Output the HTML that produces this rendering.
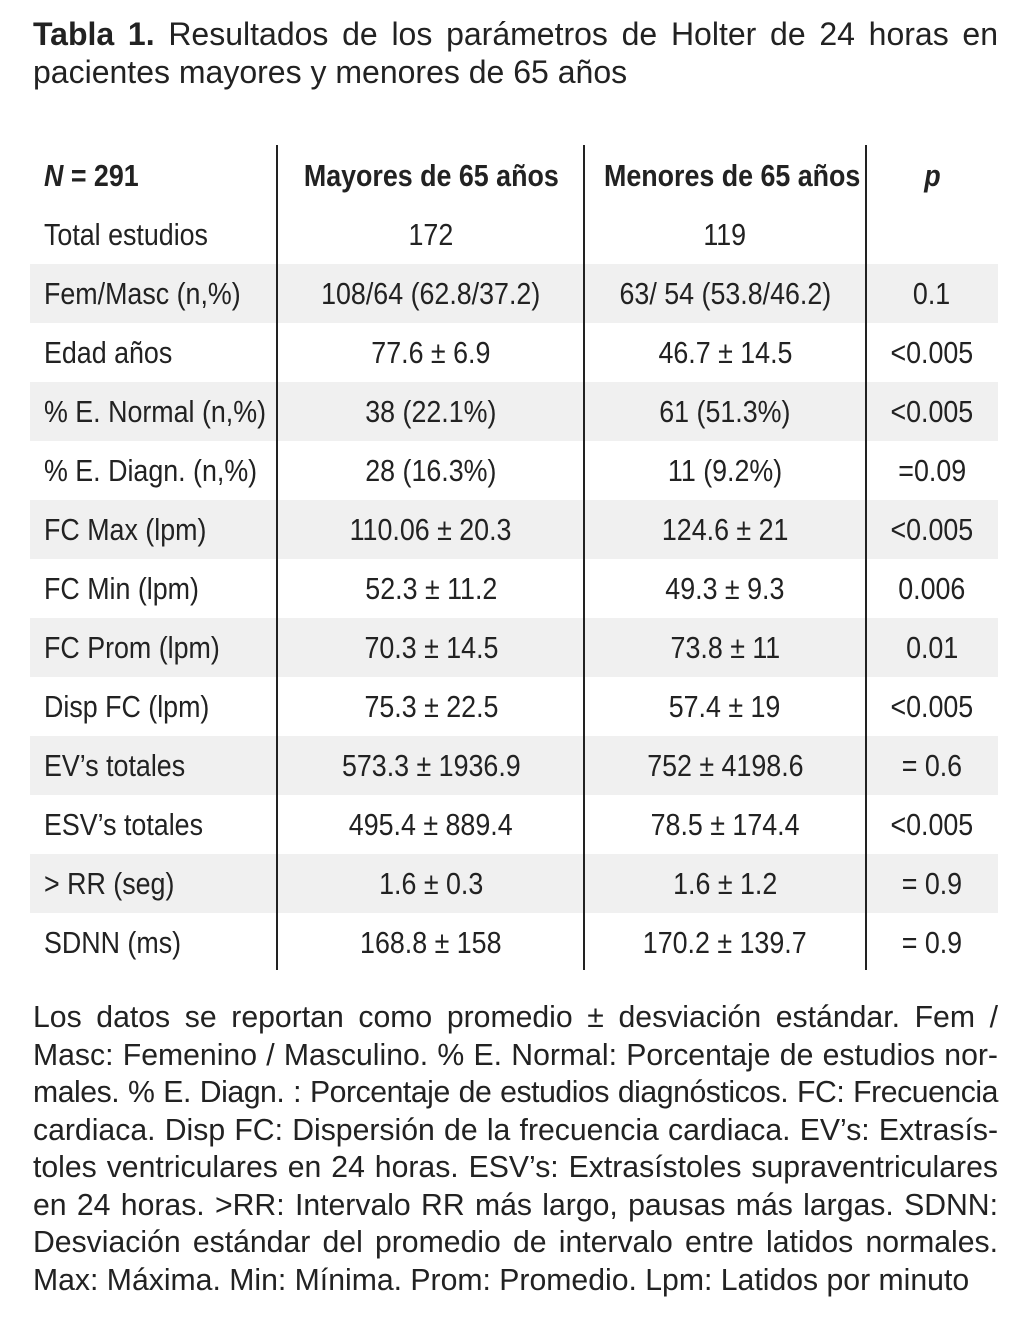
<!DOCTYPE html>
<html><head><meta charset="utf-8"><style>
body{margin:0;width:1024px;height:1336px;background:#fff;position:relative;overflow:hidden;color:#222}
.t{position:absolute;left:33px;width:965px;font-family:"Liberation Sans",sans-serif;font-size:32px;}
.fl{position:absolute;left:33px;width:965px;font-family:"Liberation Sans",sans-serif;font-size:30.2px;text-align:justify;text-align-last:justify;white-space:nowrap;height:38px;line-height:38px}
.row{position:absolute;left:30px;width:968px;height:59px}
.sh{background:#f0f0f0}
.c{position:absolute;top:0;height:59px;line-height:59px;font-family:"Liberation Sans Narrow","Liberation Sans",sans-serif;font-size:31px;white-space:nowrap}
.c span{display:inline-block;transform:scaleX(0.865)}
.c1{left:14px;transform-origin:left}
.c1 span{transform-origin:left center}
.c2{left:248px;width:306px;text-align:center}
.c3{left:554px;width:282px;text-align:center}
.c4{left:836px;width:132px;text-align:center}
.vl{position:absolute;top:145px;width:2px;height:825px;background:#222}
</style></head><body>
<div class="t" style="top:15px;line-height:38px">
<div style="text-align:justify;text-align-last:justify;white-space:nowrap"><b>Tabla 1.</b> Resultados de los parámetros de Holter de 24 horas en</div>
<div>pacientes mayores y menores de 65 años</div></div>
<div id="tbl"></div>
<div class="vl" style="left:276px"></div>
<div class="vl" style="left:583px"></div>
<div class="vl" style="left:865px"></div>
<div>
<div class="fl" style="top:999px">Los datos se reportan como promedio ± desviación estándar. Fem /</div>
<div class="fl" style="top:1036.5px">Masc: Femenino / Masculino. % E. Normal: Porcentaje de estudios nor-</div>
<div class="fl" style="top:1074px;letter-spacing:-0.45px">males. % E. Diagn. : Porcentaje de estudios diagnósticos. FC: Frecuencia</div>
<div class="fl" style="top:1111.5px">cardiaca. Disp FC: Dispersión de la frecuencia cardiaca. EV’s: Extrasís-</div>
<div class="fl" style="top:1149px">toles ventriculares en 24 horas. ESV’s: Extrasístoles supraventriculares</div>
<div class="fl" style="top:1186.5px">en 24 horas. &gt;RR: Intervalo RR más largo, pausas más largas. SDNN:</div>
<div class="fl" style="top:1224px">Desviación estándar del promedio de intervalo entre latidos normales.</div>
<div class="fl" style="top:1261.5px;text-align:left;text-align-last:left">Max: Máxima. Min: Mínima. Prom: Promedio. Lpm: Latidos por minuto</div>
</div>
<script>
const labels=["Total estudios","Fem/Masc (n,%)","Edad años","% E. Normal (n,%)","% E. Diagn. (n,%)","FC Max (lpm)","FC Min (lpm)","FC Prom (lpm)","Disp FC (lpm)","EV’s totales","ESV’s totales","> RR (seg)","SDNN (ms)"];
const mayores=["172","108/64 (62.8/37.2)","77.6 ± 6.9","38 (22.1%)","28 (16.3%)","110.06 ± 20.3","52.3 ± 11.2","70.3 ± 14.5","75.3 ± 22.5","573.3 ± 1936.9","495.4 ± 889.4","1.6 ± 0.3","168.8 ± 158"];
const menores=["119","63/ 54 (53.8/46.2)","46.7 ± 14.5","61 (51.3%)","11 (9.2%)","124.6 ± 21","49.3 ± 9.3","73.8 ± 11","57.4 ± 19","752 ± 4198.6","78.5 ± 174.4","1.6 ± 1.2","170.2 ± 139.7"];
const pvals=["","0.1","<0.005","<0.005","=0.09","<0.005","0.006","0.01","<0.005","= 0.6","<0.005","= 0.9","= 0.9"];
const tbl=document.getElementById('tbl');
function mk(top,vals,cls,bold,name){
  const r=document.createElement('div');
  r.className='row'+cls;r.style.top=top+'px';
  
  
  ['c1','c2','c3','c4'].forEach((c,i)=>{
    const d=document.createElement('div');d.className='c '+c;
    
    
    const s=document.createElement('span');s.innerHTML=vals[i];
    if(bold)s.style.fontWeight='bold';
    d.appendChild(s);r.appendChild(d);});
  tbl.appendChild(r);
}
mk(146,["<i>N</i> = 291","Mayores de 65 años","Menores de 65 años","<i>p</i>"],'',true,'header-row');
labels.forEach((l,i)=>{
  const esc=s=>s.replace(/</g,'&lt;').replace(/>/g,'&gt;');
  mk(205+i*59,[esc(l),mayores[i],menores[i],esc(pvals[i])],i%2===1?' sh':'',false,'data-row');
});
</script>
</body></html>
